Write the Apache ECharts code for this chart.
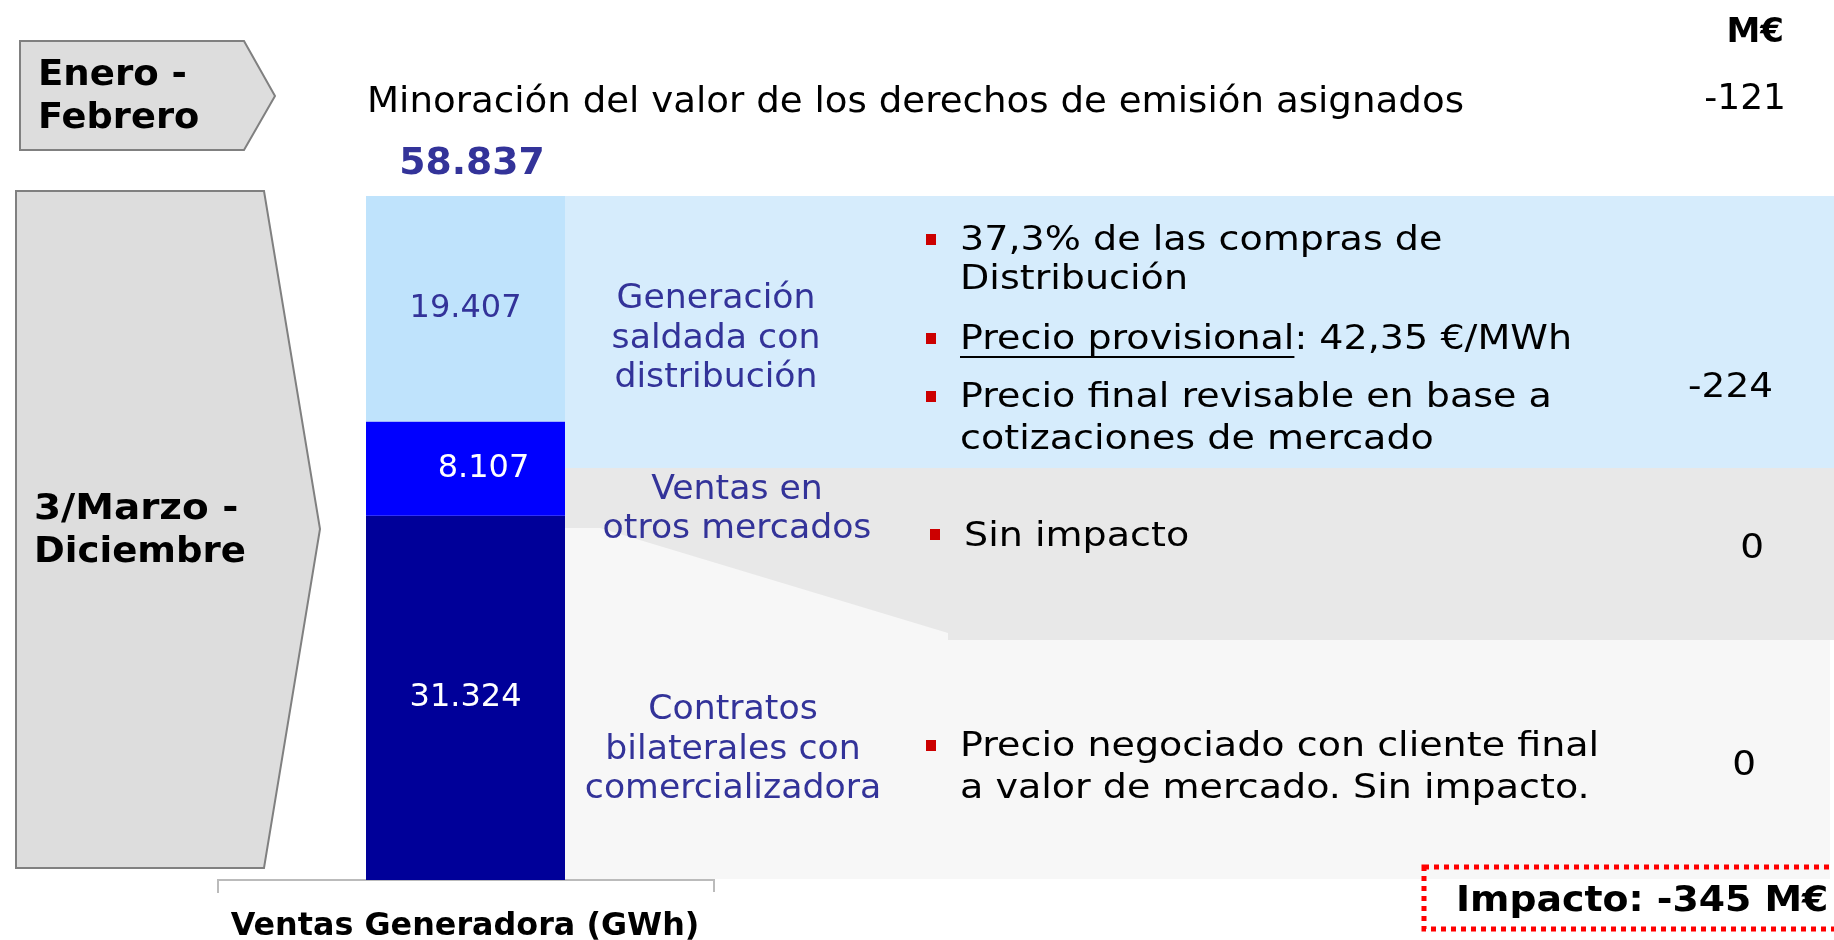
<!DOCTYPE html>
<html>
<head>
<meta charset="utf-8">
<script src="https://cdn.jsdelivr.net/npm/echarts@6/dist/echarts.min.js"></script>
<style>
  html, body { margin: 0; padding: 0; background: #fff; }
  #chart { width: 1834px; height: 940px; }
</style>
</head>
<body>
<div id="chart"></div>
<script>
  // segmentos de la barra (de abajo a arriba), GWh
  var segmentNames = ['Contratos bilaterales con comercializadora', 'Ventas en otros mercados', 'Generación saldada con distribución'];
  var segmentValues = [31324, 8107, 19407];
  var totalReported = 58837; // total tal como aparece en la lámina
  // impacto por bloque, M€
  var impactRows = ['Minoración', 'Generación saldada', 'Ventas otros mercados', 'Contratos bilaterales'];
  var impactValues = [-121, -224, 0, 0];
  var totalImpact = -345;

  var segmentColors = ['#000099', '#0000FF', '#BFE3FC'];
  var labelColors = ['#FFFFFF', '#FFFFFF', '#333399'];

  var totalGWh = segmentValues.reduce(function (a, b) { return a + b; }, 0);

  function fmtGWh(v) {
    return (v / 1000).toFixed(3);
  }

  var FONT = '"DejaVu Sans", Verdana, sans-serif';

  var measureCtx = document.createElement('canvas').getContext('2d');
  function measure(text, size, bold) {
    measureCtx.font = (bold ? 'bold ' : '') + size + 'px ' + FONT;
    return measureCtx.measureText(text).width;
  }

  function txt(text, x, y, size, opts) {
    opts = opts || {};
    return {
      type: 'text',
      z: 20,
      x: x,
      y: y,
      scaleX: opts.sx || 1,
      style: {
        text: text,
        x: 0,
        y: 0,
        fill: opts.color || '#000',
        font: (opts.bold ? 'bold ' : '') + size + 'px ' + FONT,
        align: opts.align || 'left',
        verticalAlign: 'middle'
      }
    };
  }

  function bullet(x, y) {
    return {type: 'rect', z: 20, shape: {x: x, y: y - 6, width: 10, height: 11}, style: {fill: '#CC0000'}};
  }

  // la lámina original está algo estirada en horizontal
  var sxBody = 612 / measure('Precio provisional: 42,35 €/MWh', 34);
  var sxTitle = 1097 / measure('Minoración del valor de los derechos de emisión asignados', 35);
  var underlineW = measure('Precio provisional', 34) * sxBody;
  var BODY = {sx: sxBody};
  var PANEL = {color: '#333399', align: 'center', sx: 1.02};

  var graphics = [
    // fondos de paneles
    {type: 'rect', z: 1, shape: {x: 565, y: 196, width: 1269, height: 272}, style: {fill: '#D6ECFC'}},
    {type: 'rect', z: 1, shape: {x: 565, y: 468, width: 1265, height: 411}, style: {fill: '#F7F7F7'}},
    {type: 'polygon', z: 2, shape: {points: [[565, 468], [1834, 468], [1834, 640], [948, 640], [948, 633], [600, 528], [565, 528]]}, style: {fill: '#E8E8E8'}},

    // flechas de periodo
    {type: 'polygon', z: 3, shape: {points: [[20, 41], [244, 41], [275, 96], [244, 150], [20, 150]]}, style: {fill: '#DDDDDD', stroke: '#808080', lineWidth: 2}},
    {type: 'polygon', z: 3, shape: {points: [[16, 191], [264, 191], [320, 529], [264, 868], [16, 868]]}, style: {fill: '#DDDDDD', stroke: '#808080', lineWidth: 2}},
    txt('Enero -', 38, 76, 35, {bold: true, sx: 1.06}),
    txt('Febrero', 38, 119, 35, {bold: true, sx: 1.05}),
    txt('3/Marzo -', 34, 510, 36, {bold: true, sx: 1.08}),
    txt('Diciembre', 34, 553, 36, {bold: true, sx: 1.03}),

    // cabecera
    txt('M€', 1784, 33, 34, {bold: true, align: 'right'}),
    txt('Minoración del valor de los derechos de emisión asignados', 367, 103, 35, {sx: sxTitle}),
    txt(String(impactValues[0]), 1786, 100, 36, {align: 'right'}),
    txt(fmtGWh(totalReported), 472, 164, 37, {bold: true, color: '#333399', align: 'center', sx: 1.02}),

    // textos de los paneles
    txt('Generación', 716, 299, 34, PANEL),
    txt('saldada con', 716, 339, 34, PANEL),
    txt('distribución', 716, 378, 34, PANEL),
    txt('Ventas en', 737, 490, 34, PANEL),
    txt('otros mercados', 737, 529, 34, PANEL),
    txt('Contratos', 733, 710, 34, PANEL),
    txt('bilaterales con', 733, 750, 34, PANEL),
    txt('comercializadora', 733, 789, 34, PANEL),

    // viñetas
    bullet(926, 240),
    txt('37,3% de las compras de', 960, 241, 34, BODY),
    txt('Distribución', 960, 280, 34, BODY),
    bullet(926, 339),
    txt('Precio provisional: 42,35 €/MWh', 960, 340, 34, BODY),
    {type: 'line', z: 20, shape: {x1: 960, y1: 357, x2: 960 + underlineW, y2: 357}, style: {stroke: '#000', lineWidth: 2}},
    bullet(926, 397),
    txt('Precio final revisable en base a', 960, 398, 34, BODY),
    txt('cotizaciones de mercado', 960, 440, 34, BODY),
    bullet(930, 535),
    txt('Sin impacto', 964, 537, 34, BODY),
    bullet(926, 746),
    txt('Precio negociado con cliente final', 960, 747, 34, BODY),
    txt('a valor de mercado. Sin impacto.', 960, 789, 34, BODY),

    // impacto M€
    txt(String(impactValues[1]), 1773, 388, 34, {align: 'right', sx: 1.1}),
    txt(String(impactValues[2]), 1764, 549, 34, {align: 'right', sx: 1.1}),
    txt(String(impactValues[3]), 1756, 766, 34, {align: 'right', sx: 1.1}),

    // eje inferior
    {type: 'polyline', z: 5, shape: {points: [[218, 893], [218, 880], [714, 880], [714, 892]]}, style: {stroke: '#BBBBBB', lineWidth: 2, fill: null}},
    txt('Ventas Generadora (GWh)', 465, 927, 31.5, {bold: true, align: 'center', sx: 1.01}),

    // total
    {type: 'rect', z: 20, shape: {x: 1424, y: 867, width: 440, height: 62}, style: {fill: null, stroke: '#FF0000', lineWidth: 5, lineDash: [5, 5]}},
    txt('Impacto: ' + totalImpact + ' M€', 1456, 902, 36, {bold: true, sx: 1.05})
  ];

  var series = segmentNames.map(function (name, i) {
    return {
      name: name,
      type: 'bar',
      stack: 'ventas',
      barWidth: '100%',
      z: 10,
      itemStyle: {color: segmentColors[i]},
      label: {
        show: true,
        position: 'inside',
        offset: i === 1 ? [18, 0] : [0, 0],
        color: labelColors[i],
        fontFamily: FONT,
        fontSize: 32,
        formatter: function (p) { return fmtGWh(p.value); }
      },
      data: [segmentValues[i]]
    };
  });

  var option = {
    animation: false,
    grid: {left: 366, right: 1834 - 565, top: 196, bottom: 940 - 880, containLabel: false},
    xAxis: {type: 'category', data: ['Ventas'], show: false},
    yAxis: {type: 'value', min: 0, max: totalGWh, show: false},
    tooltip: {show: false},
    series: series,
    graphic: graphics
  };

  echarts.init(document.getElementById('chart')).setOption(option);
</script>
</body>
</html>
